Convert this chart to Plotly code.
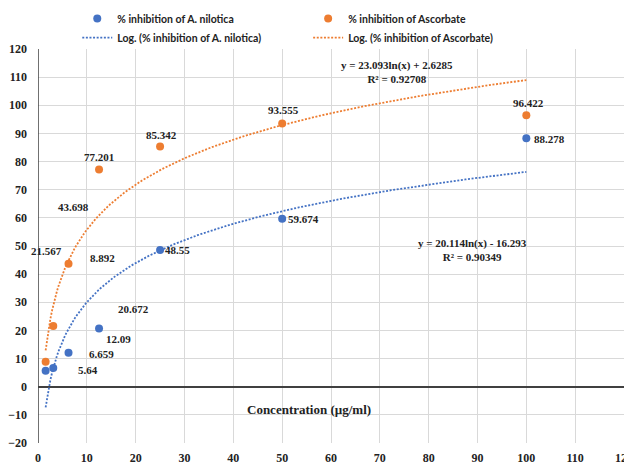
import numpy as np
import plotly.graph_objects as go

# ---- data ----
concentration = [1.5625, 3.125, 6.25, 12.5, 25, 50, 100]
nilotica = [5.64, 6.659, 12.09, 20.672, 48.55, 59.674, 88.278]
ascorbate = [8.892, 21.567, 43.698, 77.201, 85.342, 93.555, 96.422]

# log trendline coefficients (as shown on chart)
nil_a, nil_b, nil_r2 = 20.114, -16.293, 0.90349
asc_a, asc_b, asc_r2 = 23.093, 2.6285, 0.92708

x_ticks = list(range(0, 121, 10))
y_ticks = list(range(-20, 121, 10))

# label placements (data coordinates) as in the original
nil_label_x = [10.2, 12.9, 16.4, 19.5, 28.5, 54.3, 104.7]
nil_label_y = [6.0, 11.7, 17.0, 27.7, 48.6, 59.6, 88.0]
asc_label_x = [13.3, 1.8, 7.2, 12.5, 25.2, 50.2, 100.4]
asc_label_y = [45.8, 48.3, 63.9, 81.6, 89.5, 98.3, 100.8]

BLUE = "#4472C4"
ORANGE = "#ED7D31"
SERIF = "Liberation Serif"
SANS = "Lato, Liberation Sans, Arial"
DOT = "2px,1.6px"

xt = np.linspace(min(concentration), max(concentration), 300)
nil_fit = nil_a * np.log(xt) + nil_b
asc_fit = asc_a * np.log(xt) + asc_b

fig = go.Figure()
fig.add_trace(go.Scatter(x=concentration, y=nilotica, mode="markers",
                         marker=dict(color=BLUE, size=8),
                         name="% inhibition of A. nilotica", legend="legend"))
fig.add_trace(go.Scatter(x=xt, y=nil_fit, mode="lines",
                         line=dict(color=BLUE, width=1.8, dash=DOT),
                         name="Log. (% inhibition of A. nilotica)", legend="legend"))
fig.add_trace(go.Scatter(x=concentration, y=ascorbate, mode="markers",
                         marker=dict(color=ORANGE, size=8),
                         name="% inhibition of Ascorbate", legend="legend2"))
fig.add_trace(go.Scatter(x=xt, y=asc_fit, mode="lines",
                         line=dict(color=ORANGE, width=1.8, dash=DOT),
                         name="Log. (% inhibition of Ascorbate)", legend="legend2"))

lab_font = dict(family=SERIF, size=11, color="#222", weight="bold")
tick_font = dict(family=SERIF, size=12, color="#222", weight="bold")
ann = []
for v, lx, ly in zip(nilotica, nil_label_x, nil_label_y):
    ann.append(dict(x=lx, y=ly, text=f"{v:g}", showarrow=False, font=lab_font))
for v, lx, ly in zip(ascorbate, asc_label_x, asc_label_y):
    ann.append(dict(x=lx, y=ly, text=f"{v:g}", showarrow=False, font=lab_font))

ann.append(dict(x=73.6, y=112.0, showarrow=False, align="center",
                text=f"y = {asc_a}ln(x) + {asc_b}<br>R² = {asc_r2}",
                font=lab_font))
ann.append(dict(x=88.9, y=48.6, showarrow=False, align="center",
                text=f"y = {nil_a}ln(x) - {abs(nil_b)}<br>R² = {nil_r2}",
                font=lab_font))
ann.append(dict(x=55.5, y=-8.2, showarrow=False,
                text="Concentration (µg/ml)",
                font=dict(family=SERIF, size=13, color="#222", weight="bold")))
for a in ann:
    a.setdefault("xref", "x")
    a.setdefault("yref", "y")

leg_font = dict(family=SANS, size=10.5, color="#222", weight="bold")

fig.update_layout(
    width=624, height=456,
    margin=dict(l=30, r=8, t=41, b=21, autoexpand=False),
    paper_bgcolor="white", plot_bgcolor="white",
    showlegend=True,
    legend=dict(orientation="v", x=0.067, xanchor="left", y=1.114, yanchor="top",
                font=leg_font, tracegroupgap=0, bgcolor="rgba(0,0,0,0)"),
    legend2=dict(orientation="v", x=0.461, xanchor="left", y=1.114, yanchor="top",
                 font=leg_font, tracegroupgap=0, bgcolor="rgba(0,0,0,0)"),
    annotations=ann,
    xaxis=dict(range=[0, 120], tickvals=x_ticks, showgrid=True,
               gridcolor="#d9d9d9", gridwidth=1, zeroline=False,
               showline=False, ticks="", tickfont=tick_font,
               ticklabelstandoff=6, ticklabeloverflow="allow"),
    yaxis=dict(range=[-20, 120], tickvals=y_ticks, showgrid=True,
               gridcolor="#d9d9d9", gridwidth=1, zeroline=True,
               zerolinecolor="#404040", zerolinewidth=1.5,
               showline=False, ticks="", tickfont=tick_font,
               ticklabelstandoff=10),
    shapes=[dict(type="line", xref="x", yref="y", x0=0, x1=0, y0=-20, y1=120,
                 line=dict(color="#404040", width=1.5))],
)

fig.write_html("out.html")
